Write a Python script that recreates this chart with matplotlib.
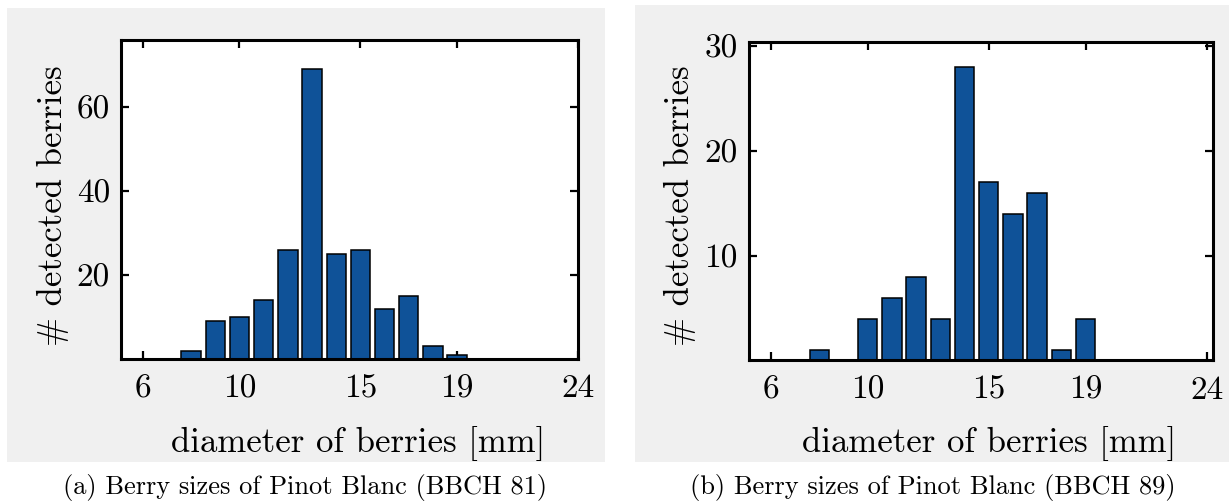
import matplotlib
matplotlib.use("Agg")
import matplotlib.pyplot as plt
from matplotlib.patches import Rectangle

plt.rcParams['font.family'] = ['cmr10', 'DejaVu Serif']
plt.rcParams['axes.formatter.use_mathtext'] = True

# histogram data (diameter in mm -> count)
diam_a = [8, 9, 10, 11, 12, 13, 14, 15, 16, 17, 18, 19]
count_a = [2, 9, 10, 14, 26, 69, 25, 26, 12, 15, 3, 1]
diam_b = [8, 9, 10, 11, 12, 13, 14, 15, 16, 17, 18, 19]
count_b = [1, 0, 4, 6, 8, 4, 28, 17, 14, 16, 1, 4]

xticks = [6, 10, 15, 19, 24]
yticks_a = [20, 40, 60]
yticks_b = [10, 20, 30]

xlabel = "diameter of berries [mm]"
ylabel = "# detected berries"
captions = ["(a) Berry sizes of Pinot Blanc (BBCH 81)",
            "(b) Berry sizes of Pinot Blanc (BBCH 89)"]

W, H = 1229, 503
bar_color = '#0f5298'
bg = '#f0f0f0'

fig = plt.figure(figsize=(W / 100, H / 100), dpi=100)
fig.patch.set_facecolor('white')


def px_box(x0, y0, x1, y1):
    # pixel box (top-left origin) -> figure fraction [left, bottom, width, height]
    return [x0 / W, 1 - y1 / H, (x1 - x0) / W, (y1 - y0) / H]


# gray panel backgrounds
for (x0, y0, x1, y1) in [(7, 8, 605, 462), (635, 5, 1229, 462)]:
    l, b, w, h = px_box(x0, y0, x1, y1)
    fig.patches.append(Rectangle((l, b), w, h, transform=fig.transFigure,
                                 facecolor=bg, edgecolor='none', zorder=-10))

panels = [
    dict(box=(121, 40, 578, 359), x=diam_a, y=count_a, yt=yticks_a,
         ylim=(0, 76), xlim=(5.1, 24.0), xl=358.5, yl=53, cap=305),
    dict(box=(749, 41.7, 1212.7, 360.4), x=diam_b, y=count_b, yt=yticks_b,
         ylim=(0, 30.45), xlim=(5.1, 24.25), xl=989, yl=680, cap=933),
]

for i, p in enumerate(panels):
    ax = fig.add_axes(px_box(*p['box']))
    ax.set_zorder(1)
    ax.bar(p['x'], p['y'], width=0.8, color=bar_color, edgecolor='black',
           linewidth=1.1, zorder=2)
    ax.set_xlim(*p['xlim'])
    ax.set_ylim(*p['ylim'])
    ax.set_xticks(xticks)
    ax.set_xticklabels([str(t) for t in xticks])
    ax.set_yticks(p['yt'])
    ax.set_yticklabels([str(t) for t in p['yt']])
    ax.tick_params(direction='in', length=6, width=1.6, top=True, right=True,
                   labelsize=24, color='black')
    ax.tick_params(axis='x', pad=11)
    ax.tick_params(axis='y', pad=8)
    for s in ax.spines.values():
        s.set_linewidth(2.2)
        s.set_zorder(3)
    ax.set_facecolor('white')

    fig.text(p['xl'] / W, 1 - 426 / H, xlabel, fontsize=25,
             ha='center', va='top')
    fig.text(p['yl'] / W, 1 - 206 / H, ylabel, fontsize=25, rotation=90,
             ha='center', va='center')
    fig.text(p['cap'] / W, 1 - 494 / H, captions[i], fontsize=19,
             ha='center', va='baseline')

fig.savefig('out.png', dpi=100, facecolor='white')
